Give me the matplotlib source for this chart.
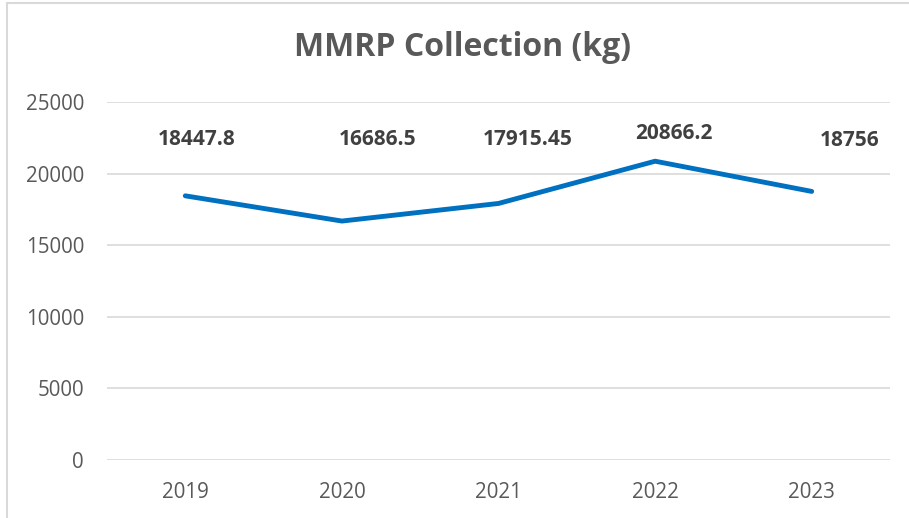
import matplotlib
matplotlib.use("Agg")
import matplotlib.pyplot as plt
from matplotlib.patches import Rectangle

# data
years = ["2019", "2020", "2021", "2022", "2023"]
collection = [18447.8, 16686.5, 17915.45, 20866.2, 18756]
labels = ["18447.8", "16686.5", "17915.45", "20866.2", "18756"]

plt.rcParams['font.family'] = ['Open Sans', 'DejaVu Sans']

fig = plt.figure(figsize=(9.09, 5.18), dpi=100)
# outer chart border
fig.patches.append(Rectangle((7 / 909, -0.1), 1.2, 1.1 - 3 / 518,
                             transform=fig.transFigure, fill=False,
                             edgecolor="#d9d9d9", linewidth=1.5))

ax = fig.add_axes([107 / 909, 1 - 460 / 518, 783 / 909, 358 / 518])
x = range(len(years))
ax.plot(x, collection, color="#0070C0", linewidth=3.5, solid_capstyle="round")

# data labels (manually nudged like the original)
offsets = [(11, 22350), (36, 22350), (29, 22350), (19, 22830), (38, 22280)]
for i, (v, lab) in enumerate(zip(collection, labels)):
    dx, yy = offsets[i]
    ax.annotate(lab, (i, yy), xytext=(dx, 0), textcoords="offset pixels",
                ha="center", va="center", fontsize=15, fontweight="bold",
                color="#404040")

ax.set_xlim(-0.5, 4.5)
ax.set_ylim(0, 25000)
ax.set_yticks(range(0, 25001, 5000))
ax.set_xticks(list(x))
ax.set_xticklabels(years)
ax.grid(axis="y", color="#d9d9d9", linewidth=1.2)
ax.set_axisbelow(True)
for s in ax.spines.values():
    s.set_visible(False)
ax.tick_params(length=0, labelsize=14.8, labelcolor="#595959")
ax.tick_params(axis="y", pad=16.5)
ax.tick_params(axis="x", pad=16)

fig.text(462 / 909, 1 - 48 / 518, "MMRP Collection (kg)", ha="center", va="center",
         fontsize=23, fontweight="bold", color="#595959")

fig.savefig("out.png", dpi=100)
